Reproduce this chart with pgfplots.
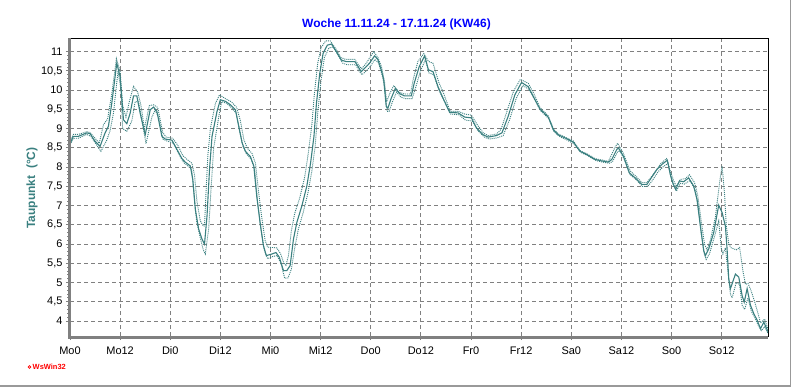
\documentclass[border=0pt]{standalone}
\usepackage{pgfplots}
\pgfplotsset{compat=1.18}
\usepackage{fontspec}
\setmainfont{Liberation Sans}
\definecolor{tealline}{RGB}{58,128,128}
\definecolor{gridgray}{RGB}{128,128,128}
\definecolor{titleblue}{RGB}{0,0,255}
\begin{document}
\begin{tikzpicture}[x=1bp,y=1bp]
\path[use as bounding box] (0,0) rectangle (792,387);
\fill[white] (0,0) rectangle (792,387);
\draw[gray!80, line width=1.5bp] (0,1) -- (790.5,1) -- (790.5,387);
\begin{axis}[name=ax, at={(70bp,51bp)}, anchor=south west,
  width=698bp, height=298bp, scale only axis,
  xmin=0, xmax=167.1, ymin=3.61, ymax=11.356,
  xtick={0,12,...,156},
  xticklabels={Mo0,Mo12,Di0,Di12,Mi0,Mi12,Do0,Do12,Fr0,Fr12,Sa0,Sa12,So0,So12},
  minor x tick num=3,
  ytick={4,4.5,...,11}, minor y tick num=4,
  grid=major,
  major grid style={gridgray, dash pattern=on 4bp off 3bp, line width=0.9bp},
  tick align=outside, major tick length=4bp, minor tick length=3bp,
  tick style={gridgray, line width=0.9bp},
  axis line style={black, line width=0.9bp},
  xtick pos=bottom, ytick pos=left,
  ticklabel style={font=\fontsize{11}{13}\selectfont},
  /pgf/number format/assume math mode=true,
  yticklabel style={/pgf/number format/.cd, use comma, fixed, precision=1},
  xticklabel style={yshift=-3bp},
]
% upper (max) dotted
\addplot[tealline, line width=0.9bp, dash pattern=on 1bp off 1bp] coordinates {
(0,8.65)(0.8,8.85)(2,8.85)(4,8.92)(4.8,8.9)(6,8.75)(7,8.62)(8,9.1)(9,9.25)(10,9.9)(11.1,10.82)(12,10.5)(12.6,9.6)(13.4,9.3)(14.2,9.7)(15.2,10.1)(16.2,9.95)(17,9.6)(17.8,9.0)(19,9.6)(20,9.62)(21,9.55)(22.2,8.9)(23,8.78)(24.6,8.75)(25.9,8.55)(27,8.3)(28,8.2)(29.2,8.1)(29.8,7.8)(30.4,7.1)(31.2,6.6)(31.9,6.47)(32.2,6.47)(32.5,7.2)(33,8.3)(33.6,9.0)(34.8,9.65)(35.8,9.88)(37.2,9.78)(38.6,9.7)(39.9,9.55)(40.8,9.2)(41.6,8.72)(42.4,8.5)(43.6,8.35)(44.4,8.1)(45.1,7.4)(45.9,6.7)(46.7,6.1)(47.3,5.92)(48.5,5.91)(49.5,5.9)(50.4,5.75)(51.2,5.5)(51.7,5.45)(52.3,5.7)(53,6.35)(53.8,6.8)(55,7.2)(56.2,7.75)(57.1,8.4)(57.9,9.1)(58.5,9.9)(59.3,10.7)(60.1,11.1)(61.2,11.28)(62.3,11.28)(63.6,11.08)(64.8,10.85)(66,10.8)(68.2,10.8)(69.1,10.65)(69.8,10.56)(70.8,10.68)(71.5,10.8)(72.7,11.0)(73.7,10.85)(74.6,10.6)(75.3,10.2)(75.8,9.7)(76.5,9.9)(77.5,10.12)(78.7,9.95)(80.1,9.9)(81.5,9.9)(82.2,10.3)(83.3,10.75)(84.7,10.95)(85.8,10.75)(86.9,10.7)(88.3,10.2)(89.5,9.9)(91,9.45)(92.9,9.45)(94.5,9.38)(96.1,9.35)(97.5,9.1)(99,8.88)(100.1,8.82)(102.1,8.86)(103.2,8.98)(104.6,9.45)(106.2,9.98)(107.8,10.28)(109.7,10.18)(111.1,9.9)(112.5,9.55)(114.5,9.33)(115.7,9.0)(116.9,8.86)(118.5,8.78)(120.5,8.68)(122.1,8.43)(123.7,8.35)(125.7,8.22)(128.9,8.15)(130.5,8.52)(131.1,8.62)(132.5,8.35)(134.1,7.9)(135.5,7.76)(136.9,7.6)(138.1,7.6)(139.9,7.85)(141.5,8.1)(142.8,8.22)(143.7,7.9)(144.5,7.65)(145.2,7.5)(146.1,7.68)(147.3,7.7)(148.3,7.8)(149.5,7.6)(150.3,7.25)(151.1,6.6)(151.9,6.0)(152.5,5.85)(153.3,6.1)(154.5,6.7)(155.5,7.6)(156.1,8.03)(156.7,7.3)(157.1,6.5)(157.7,6.0)(158.3,5.9)(159.5,5.85)(160.3,5.91)(161.1,5.3)(161.7,4.95)(162.3,4.98)(163,4.8)(163.9,4.5)(164.7,4.2)(165.3,3.95)(166.3,4.05)(167.1,3.78)
};
% lower (min) dotted
\addplot[tealline, line width=0.9bp, dash pattern=on 1bp off 1bp] coordinates {
(0,8.58)(0.8,8.75)(2,8.75)(4,8.85)(5,8.8)(6.2,8.6)(7.4,8.41)(8.8,8.7)(9.6,8.95)(10.4,9.4)(11.5,10.5)(12.2,10.0)(12.6,9.0)(13.6,8.93)(14.8,9.2)(15.6,9.7)(16.4,9.7)(17.4,9.1)(18.2,8.61)(19.6,9.3)(20.4,9.48)(21.2,9.3)(22.2,8.73)(23.2,8.68)(24.8,8.62)(26,8.35)(27.2,8.12)(28,8.05)(29.1,7.95)(29.6,7.4)(30.3,6.6)(31.1,6.2)(31.9,5.85)(32.4,5.74)(33.2,6.4)(33.8,7.5)(34.4,8.5)(35.6,9.3)(36.3,9.7)(37.5,9.66)(38.6,9.55)(39.8,9.4)(40.6,8.95)(41.4,8.55)(42.2,8.35)(43.4,8.2)(44.2,7.95)(44.9,7.1)(45.7,6.4)(46.5,5.85)(47.3,5.62)(48.6,5.68)(49.6,5.7)(50.5,5.5)(51.4,5.11)(52.2,5.12)(53,5.35)(53.8,5.9)(54.7,6.4)(55.9,6.85)(57,7.35)(57.9,7.9)(58.7,8.55)(59.3,9.4)(60.1,10.25)(60.9,10.85)(62,11.1)(63,11.12)(64.1,10.92)(65.3,10.7)(66.4,10.66)(68.4,10.66)(69.2,10.5)(69.9,10.4)(71.1,10.52)(71.9,10.62)(73,10.8)(73.9,10.7)(74.7,10.4)(75.3,10.1)(75.9,9.45)(76.4,9.45)(77.2,9.7)(78.2,9.95)(79.2,9.82)(80.3,9.78)(81.9,9.78)(82.7,10.05)(83.9,10.5)(85.1,10.8)(85.9,10.45)(87.1,10.4)(88.3,10.0)(89.6,9.72)(91.1,9.38)(93.1,9.36)(94.7,9.22)(96.3,9.2)(97.6,8.95)(99.2,8.78)(100.3,8.73)(102.3,8.76)(103.7,8.82)(105.2,9.22)(106.8,9.78)(108.4,10.12)(109.9,10.02)(111.1,9.78)(112.7,9.46)(114.7,9.25)(115.9,8.92)(117.1,8.8)(118.7,8.72)(120.7,8.6)(122.3,8.38)(123.9,8.3)(125.9,8.17)(127.5,8.13)(129.1,8.1)(129.9,8.15)(131.1,8.4)(131.6,8.42)(132.7,8.2)(134.1,7.8)(135.5,7.68)(137,7.5)(138.3,7.5)(139.2,7.62)(140.8,7.88)(141.9,8.0)(143.2,8.1)(143.9,7.72)(144.5,7.52)(145.2,7.38)(146.1,7.58)(147.1,7.56)(148.4,7.65)(149.6,7.42)(150.4,7.0)(151.1,6.3)(151.9,5.72)(152.3,5.6)(153.1,5.75)(154.3,6.2)(155.3,6.6)(155.9,5.9)(156.3,5.74)(156.9,5.9)(157.5,5.3)(158.1,4.7)(158.5,4.6)(159.5,5.0)(160.3,4.95)(160.9,4.41)(161.5,4.3)(162.3,4.6)(163.1,4.25)(163.9,4.1)(164.7,3.9)(165.5,3.75)(166.3,3.85)(167.1,3.68)
};
% main solid
\addplot[tealline, line width=1.1bp] coordinates {
(0,8.6)(0.8,8.8)(2,8.8)(4,8.89)(4.8,8.87)(6,8.67)(7.2,8.54)(8.4,8.89)(9.2,9.06)(10,9.66)(11.2,10.7)(12,10.35)(12.8,9.23)(13.6,9.13)(14.4,9.4)(15.2,9.85)(16,9.85)(16.8,9.4)(18,8.84)(19.2,9.49)(20,9.56)(20.8,9.45)(22,8.8)(22.8,8.73)(24.4,8.7)(25.6,8.46)(26.8,8.22)(27.6,8.13)(28.8,8.03)(29.4,7.68)(30,6.9)(30.8,6.39)(31.6,6.13)(32.2,6.0)(32.8,6.73)(33.4,7.94)(34,8.8)(35.2,9.45)(36,9.75)(37.2,9.71)(38.4,9.62)(39.6,9.49)(40.4,9.06)(41.2,8.63)(42,8.41)(43.2,8.27)(44,8.03)(44.7,7.25)(45.5,6.56)(46.3,5.96)(47,5.7)(48.3,5.74)(49.3,5.78)(50.1,5.66)(51.1,5.31)(51.9,5.31)(52.7,5.44)(53.5,6.13)(54.3,6.56)(55.5,6.99)(56.7,7.51)(57.6,8.11)(58.4,8.8)(59,9.66)(59.8,10.44)(60.6,10.96)(61.6,11.17)(62.6,11.2)(63.8,11.0)(65,10.78)(66.2,10.74)(68.2,10.74)(69,10.61)(69.7,10.48)(70.9,10.61)(71.7,10.7)(72.9,10.89)(73.7,10.8)(74.5,10.53)(75.1,10.27)(75.7,9.58)(76.1,9.53)(76.9,9.79)(77.9,10.05)(78.9,9.91)(80.1,9.85)(81.7,9.85)(82.4,10.18)(83.6,10.61)(84.9,10.89)(85.8,10.53)(86.9,10.48)(88.1,10.09)(89.3,9.79)(90.9,9.42)(92.9,9.41)(94.5,9.3)(96.1,9.28)(97.3,9.02)(98.9,8.84)(100.1,8.78)(102.1,8.82)(103.4,8.89)(104.9,9.32)(106.5,9.88)(108.1,10.2)(109.7,10.09)(110.9,9.84)(112.5,9.51)(114.5,9.3)(115.7,8.97)(116.9,8.84)(118.5,8.76)(120.5,8.65)(122.1,8.41)(123.7,8.33)(125.7,8.2)(127.3,8.16)(128.9,8.13)(129.7,8.2)(130.9,8.46)(131.3,8.5)(132.5,8.28)(133.9,7.85)(135.3,7.72)(136.9,7.55)(138.1,7.55)(138.9,7.68)(140.5,7.94)(141.7,8.07)(143,8.18)(143.7,7.81)(144.3,7.59)(145,7.42)(145.9,7.64)(146.9,7.62)(148.1,7.72)(149.3,7.51)(150.1,7.16)(150.9,6.47)(151.7,5.83)(152.1,5.7)(152.9,5.87)(154.1,6.3)(155.3,7.01)(156.1,6.82)(156.9,6.47)(157.3,5.87)(157.7,5.09)(158.1,4.84)(159.3,5.22)(160.1,5.14)(160.9,4.66)(161.4,4.49)(162.1,4.84)(162.9,4.41)(163.7,4.19)(164.5,4.02)(165.3,3.8)(166.1,3.97)(167.1,3.72)
};
\end{axis}
\draw[gridgray, line width=3bp] ([xshift=-1bp]ax.north west) -- ([xshift=-1bp,yshift=-1bp]ax.south west) -- ([yshift=-1bp]ax.south east);
\node[font=\fontsize{12}{14}\selectfont\bfseries, text=titleblue] at (396.5,362.5) {Woche 11.11.24 - 17.11.24 (KW46)};
\node[font=\fontsize{12}{14}\selectfont\bfseries, text=tealline, rotate=90] at (32,199) {Taupunkt\ \ (°C)};
\fill[red] (29.5,20) circle (1.8bp);
\fill[white] (29.5,20) circle (0.7bp);
\node[font=\fontsize{7.5}{9}\selectfont\bfseries, text=red, anchor=west, inner sep=0pt] at (32.5,20) {WsWin32};
\end{tikzpicture}
\end{document}
